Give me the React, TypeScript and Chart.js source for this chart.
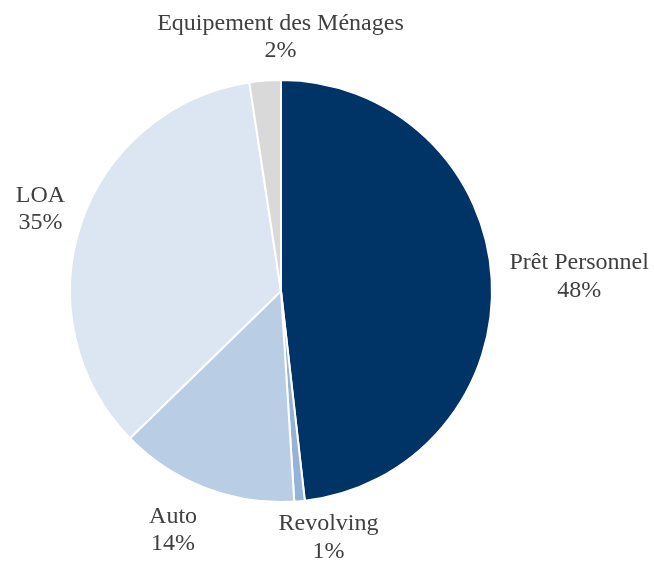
import React, { useEffect, useRef } from "react";
import { Chart, registerables } from "chart.js";

Chart.register(...registerables);

const categories = ["Prêt Personnel", "Revolving", "Auto", "LOA", "Equipement des Ménages"];
const values = [48.2, 0.8, 13.7, 34.9, 2.4];
const colors = ["#003366", "#95B3D7", "#B9CDE5", "#DCE6F2", "#D9D9D9"];
// small presentation nudges for label placement (px), same order as categories
const labelNudgeX = [0, 23, -17, 0, 26];
const labelNudgeY = [0, -9, 0, 0, 2];

const FONT = '24px "Liberation Serif", "Times New Roman", serif';
const LINE_H = 27.5;

const labelPlugin = {
  id: "outsideLabels",
  afterDatasetsDraw(chart: any) {
    const ctx = chart.ctx;
    const meta = chart.getDatasetMeta(0);
    const data = chart.data.datasets[0].data as number[];
    const total = data.reduce((a, b) => a + b, 0);
    ctx.save();
    ctx.font = FONT;
    ctx.fillStyle = "#404040";
    ctx.textAlign = "center";
    ctx.textBaseline = "middle";
    meta.data.forEach((arc: any, i: number) => {
      const { x, y, startAngle, endAngle, outerRadius } = arc.getProps(
        ["x", "y", "startAngle", "endAngle", "outerRadius"],
        true
      );
      const mid = (startAngle + endAngle) / 2;
      const dx = Math.cos(mid);
      const dy = Math.sin(mid);
      const lines = [String(chart.data.labels[i]), Math.round((data[i] / total) * 100) + "%"];
      const w = Math.max(...lines.map((l) => ctx.measureText(l).width));
      const h = LINE_H * lines.length;
      const ax = x + (outerRadius + 18) * dx;
      const ay = y + (outerRadius + 18) * dy;
      const cx = ax + (dx * w) / 2 + labelNudgeX[i];
      const cy = ay + (dy * h) / 2 + labelNudgeY[i];
      lines.forEach((l, k) => {
        ctx.fillText(l, cx, cy - h / 2 + LINE_H * (k + 0.5));
      });
    });
    ctx.restore();
  },
};

export default function App() {
  const ref = useRef<HTMLCanvasElement>(null);
  useEffect(() => {
    if (!ref.current) return;
    const chart = new Chart(ref.current, {
      type: "pie",
      data: {
        labels: categories,
        datasets: [
          {
            data: values,
            backgroundColor: colors,
            borderColor: "#FFFFFF",
            borderWidth: 2,
          },
        ],
      },
      options: {
        responsive: false,
        animation: false,
        layout: { padding: { left: 69, top: 79, right: 161, bottom: 58 } },
        plugins: {
          legend: { display: false },
          tooltip: { enabled: false },
        },
      },
      plugins: [labelPlugin],
    });
    return () => chart.destroy();
  }, []);
  return (
    <div style={{ position: "absolute", left: 0, top: 0, width: 654, height: 561, background: "#fff" }}>
      <canvas ref={ref} width={654} height={561} style={{ display: "block" }} />
    </div>
  );
}
